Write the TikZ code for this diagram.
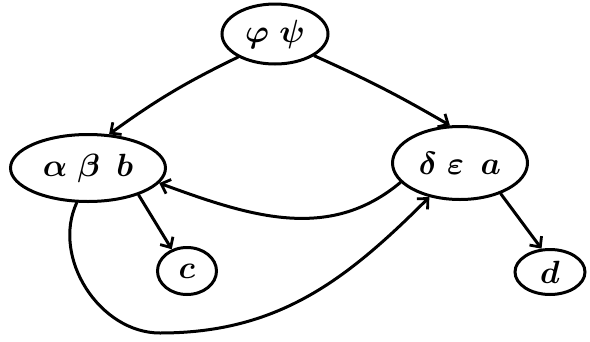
\documentclass[tikz,border=0pt]{standalone}
\usepackage{graphicx}
\usetikzlibrary{shapes.geometric,arrows.meta}
\newcommand{\bigtxt}[1]{\scalebox{1.55}{\huge\boldmath$#1$}}
\begin{document}
\begin{tikzpicture}[x=1pt,y=-1pt,
  blob/.style={draw,ellipse,line width=3pt,inner sep=0pt},
  edge/.style={line width=3pt,-{Straight Barb[length=8pt,width=15pt,line width=2.8pt]},line cap=round}]
\useasboundingbox (0,0) rectangle (590,341);
\node[blob,minimum width=106pt,minimum height=60pt] (pp) at (275,34) {\bigtxt{\varphi\;\psi}};
\node[blob,minimum width=155pt,minimum height=67pt] (ab) at (88,168) {\bigtxt{\alpha\;\beta\;\,b}};
\node[blob,minimum width=135pt,minimum height=73pt] (de) at (460,163) {\bigtxt{\delta\;\varepsilon\;\,a}};
\node[blob,minimum width=59pt,minimum height=47pt] (c) at (187,271) {\bigtxt{c}};
\node[blob,minimum width=70pt,minimum height=45pt] (d) at (550,272) {\bigtxt{d}};
\coordinate (lb) at (160,333);
\draw[edge] (pp.212) to[bend right=5] (ab.58);
\draw[edge] (pp.-29) to[bend left=3] (de.105);
\draw[edge] (de.198) to[out=220,in=-20] (ab.-12);
\draw[edge] (ab.-28) -- (c.125);
\draw[edge] (de.-37) -- (d.110);
\draw[edge] (ab.252) to[out=245,in=180] (lb) to[out=0,in=225] (de.228);
\end{tikzpicture}
\end{document}
